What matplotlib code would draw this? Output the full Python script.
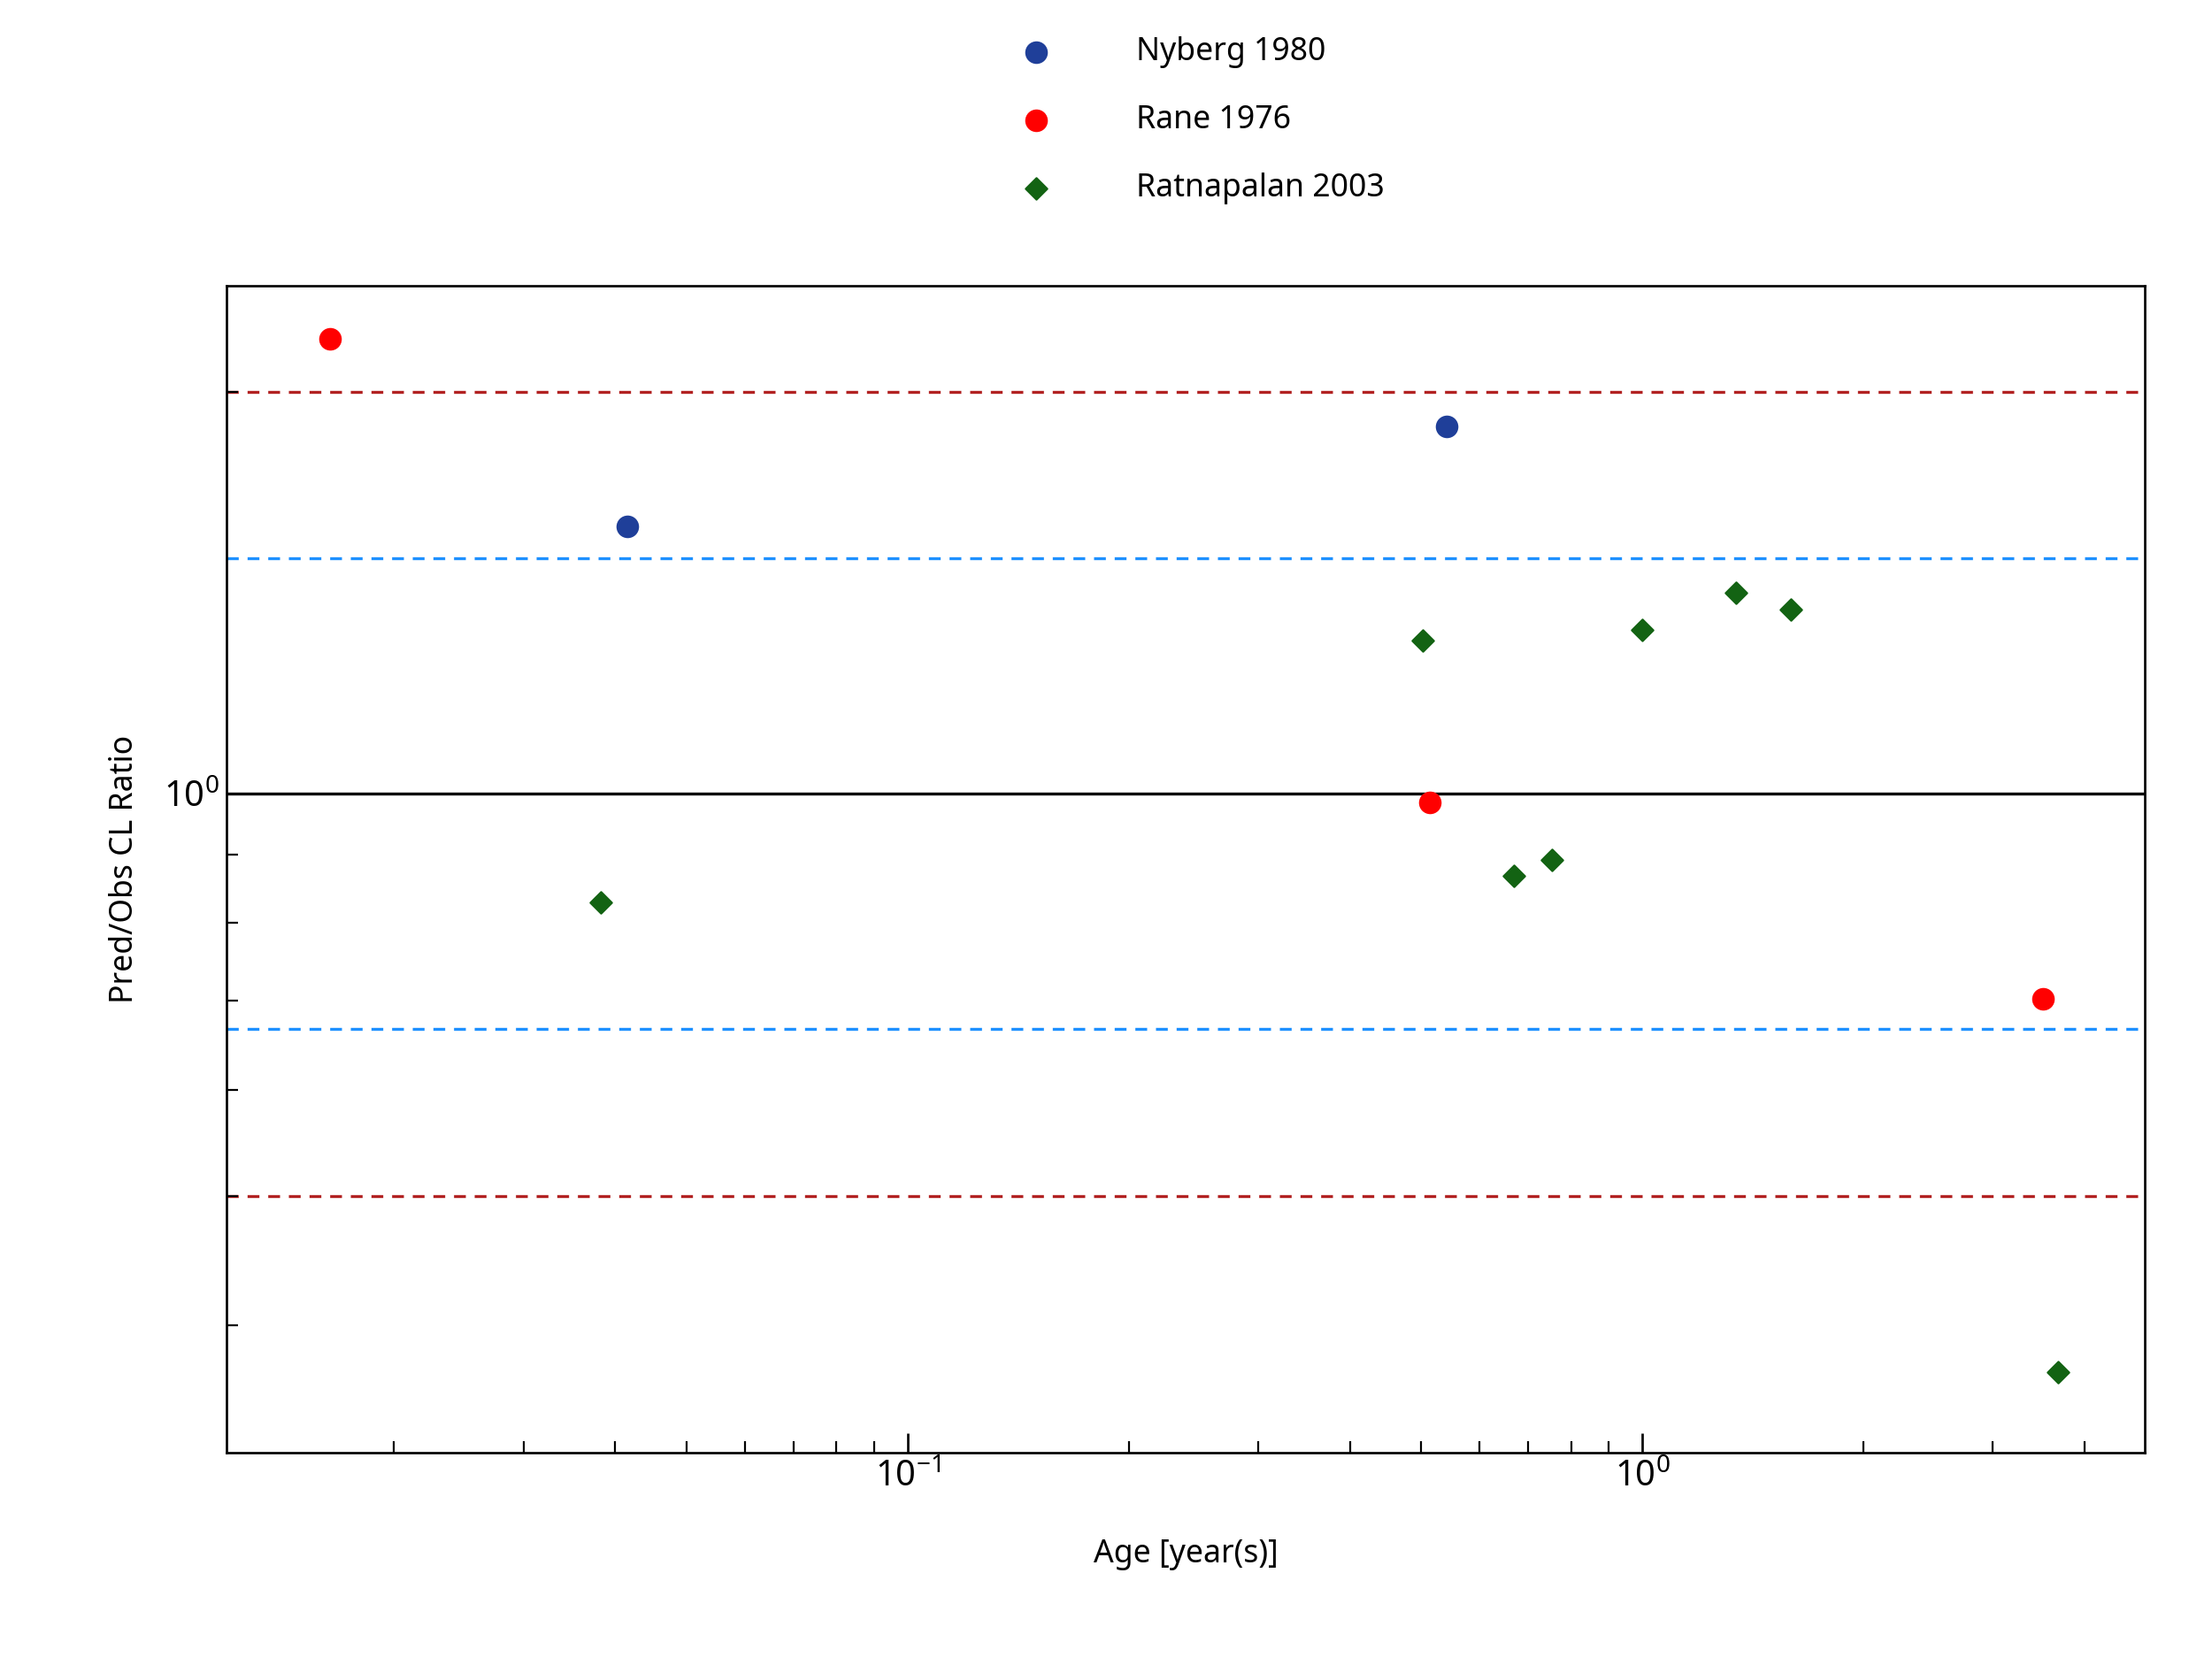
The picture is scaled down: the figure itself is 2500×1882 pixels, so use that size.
import matplotlib
matplotlib.use("Agg")
import matplotlib.pyplot as plt
from matplotlib.ticker import LogLocator, NullFormatter

plt.rcParams['font.family'] = ['Noto Sans', 'DejaVu Sans']

nyberg_x = [0.0416, 0.542]
nyberg_y = [1.586, 1.883]
rane_x = [0.01637, 0.514, 3.51]
rane_y = [2.19, 0.985, 0.702]
ratna_x = [0.0382, 0.503, 0.668, 0.753, 1.0, 1.34, 1.593, 3.68]
ratna_y = [0.829, 1.302, 0.868, 0.892, 1.327, 1.415, 1.373, 0.369]

fig = plt.figure(figsize=(15.625, 11.7625), dpi=160)
ax = fig.add_axes([0.1024, 0.1275, 0.8672, 0.7007])
ax.set_xscale('log'); ax.set_yscale('log')
ax.set_xlim(0.01183, 4.83); ax.set_ylim(0.321, 2.40)

ax.axhline(1, color='black', lw=1.5, zorder=1)
for v in (1.5, 1/1.5):
    ax.axhline(v, color='#1e90ff', ls='--', lw=1.5, dashes=(4, 3), zorder=1)
for v in (2, 0.5):
    ax.axhline(v, color='#b22222', ls='--', lw=1.5, dashes=(4, 3), zorder=1)

h1 = ax.scatter(nyberg_x, nyberg_y, s=110, color='#1f3f99', marker='o', label='Nyberg 1980', zorder=3)
h2 = ax.scatter(rane_x, rane_y, s=110, color='#ff0000', marker='o', label='Rane 1976', zorder=3)
h3 = ax.scatter(ratna_x, ratna_y, s=60, color='#136313', marker='D', label='Ratnapalan 2003', zorder=3)

for s in ax.spines.values():
    s.set_linewidth(1.2)
ax.tick_params(which='both', direction='in', top=False, right=False, labelsize=18)
ax.tick_params(which='major', length=10, width=1.2)
ax.tick_params(which='minor', length=6, width=1.0)
ax.yaxis.set_major_locator(LogLocator(base=10, numticks=5))
ax.yaxis.set_minor_locator(LogLocator(base=10, subs=range(2, 10), numticks=10))
ax.yaxis.set_minor_formatter(NullFormatter())
ax.xaxis.set_minor_formatter(NullFormatter())

ax.set_xlabel('Age [year(s)]', fontsize=16, labelpad=22)
ax.set_ylabel('Pred/Obs CL Ratio', fontsize=16, labelpad=12)

fig.legend(handles=[h1, h2, h3], loc='upper center', bbox_to_anchor=(0.54, 0.995),
           frameon=False, fontsize=16, labelspacing=1.15, handletextpad=2.2)
fig.savefig('out.png', dpi=160)
